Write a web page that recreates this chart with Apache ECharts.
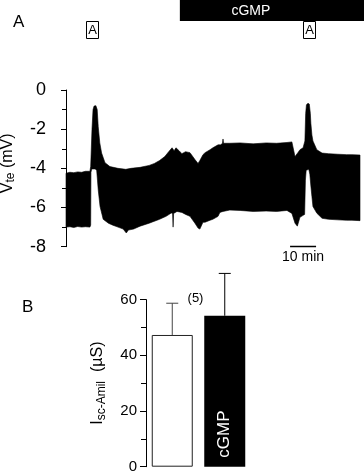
<!DOCTYPE html>
<html><head><meta charset="utf-8">
<script src="https://cdn.jsdelivr.net/npm/echarts@6/dist/echarts.min.js"></script>
<style>html,body{margin:0;padding:0;background:#fff}#c{width:364px;height:473px}</style>
</head><body><div id="c"></div>
<script>
const FONT = '"Liberation Sans", Arial, Helvetica, sans-serif';

// ---- Panel A: transepithelial voltage trace envelope [time (min), Vte (mV)]
const traceUpper = [[0,-4.25],[1.5,-4.2],[3,-4.22],[4.5,-4.18],[6,-4.2],[7.5,-4.15],[9.2,-4.15],[9.5,-3.9],[10.0,-2.0],[10.4,-1.0],[10.8,-0.82],[11.5,-0.8],[12.0,-1.0],[12.4,-1.87],[13.0,-2.7],[13.7,-3.22],[15,-3.71],[16.9,-3.91],[20,-4.0],[23,-4.05],[25,-4.0],[28.5,-3.95],[32,-3.85],[34,-3.75],[36,-3.6],[38,-3.4],[39.5,-3.15],[40.8,-2.95],[41.6,-3.1],[42.3,-2.95],[43.5,-3.1],[44.6,-3.25],[46,-3.15],[47.7,-3.2],[49.6,-3.55],[50.8,-3.75],[51.5,-3.6],[52.7,-3.3],[53.5,-3.2],[55.4,-3.05],[56.5,-2.95],[58.5,-2.8],[59.5,-2.8],[60.2,-2.72],[60.4,-2.5],[60.6,-2.72],[63,-2.72],[67,-2.7],[72,-2.75],[77,-2.7],[81,-2.72],[85,-2.68],[86.9,-2.65],[88.1,-3.4],[89.2,-3.2],[90,-3.05],[91.2,-2.95],[91.9,-2.6],[92.2,-1.2],[92.5,-0.75],[93.1,-0.68],[93.6,-0.72],[94.0,-1.2],[94.2,-1.7],[94.6,-2.3],[95,-2.6],[96.5,-3.05],[98.5,-3.22],[101,-3.25],[104.6,-3.28],[108,-3.3],[110,-3.3],[113.1,-3.32]];
const traceLower = [[0,-7.0],[1.5,-6.98],[3,-7.02],[4.5,-6.97],[6,-7.0],[7.5,-6.98],[9.2,-7.0],[9.5,-6.9],[9.6,-4.2],[9.9,-4.03],[11.2,-4.03],[11.8,-4.1],[12.1,-4.6],[12.4,-5.1],[13.1,-5.95],[14.3,-6.6],[16.3,-6.8],[18,-6.9],[20,-7.0],[22,-7.1],[23.2,-7.3],[24,-7.15],[26,-7.1],[28.5,-6.95],[32,-6.8],[36,-6.6],[38.5,-6.45],[40.5,-6.28],[41.0,-6.3],[41.2,-7.0],[41.4,-6.3],[42.7,-6.2],[44.6,-6.25],[46,-6.35],[47.7,-6.45],[49.6,-6.8],[50.8,-7.05],[51.5,-7.1],[52.7,-6.75],[53.5,-6.75],[55.4,-6.65],[56.5,-6.6],[58.5,-6.45],[59.2,-6.25],[60.4,-6.2],[63,-6.13],[67,-6.15],[72,-6.2],[77,-6.18],[81,-6.2],[85,-6.15],[86.9,-6.3],[88.1,-6.8],[89.0,-6.95],[90,-6.5],[91.2,-6.4],[91.8,-6.35],[92.1,-4.6],[92.4,-4.1],[93.4,-4.05],[93.8,-4.3],[94.2,-4.9],[94.6,-5.44],[95,-5.95],[96.5,-6.29],[98.5,-6.55],[101,-6.6],[104.6,-6.63],[108,-6.65],[110,-6.65],[113.1,-6.67]];
const amilorideTimes = [10.0, 93.3];   // boxed "A" markers
const amilorideLabel = 'A';
const cGMPStart = 43.8;                // min
const cGMPLabel = 'cGMP';
const scaleBarStart = 86.2, scaleBarLength = 10, scaleBarLabel = '10 min';
const vteMin = -8, vteMax = 0, vteInterval = 2;
const timeMax = 113.1;

// ---- Panel B: amiloride-sensitive current
const barCategories = ['Control', 'cGMP'];
const barMeans = [47.3, 54.2];
const barErrors = [11.4, 15.2];
const barNLabel = '(5)';
const isMin = 0, isMax = 60, isInterval = 20;

const chart = echarts.init(document.getElementById('c'), null, {renderer: 'canvas'});

const axisLineStyle = {color: '#000', width: 1};

chart.setOption({
  animation: false,
  backgroundColor: '#fff',
  textStyle: {fontFamily: FONT},
  grid: [
    {left: 66, top: 90, width: 294, height: 156.7, containLabel: false, outerBoundsMode: 'none'},
    {left: 146, top: 299.6, width: 105, height: 167.1, containLabel: false, outerBoundsMode: 'none'}
  ],
  xAxis: [
    {gridIndex: 0, type: 'value', min: 0, max: timeMax, show: false},
    {gridIndex: 1, type: 'category', data: barCategories, show: false}
  ],
  yAxis: [
    {gridIndex: 0, type: 'value', min: vteMin, max: vteMax, interval: vteInterval, offset: 13,
     axisLine: {show: true, lineStyle: axisLineStyle},
     axisTick: {show: true, length: 5, lineStyle: axisLineStyle},
     minorTick: {show: true, splitNumber: 2, length: 4, lineStyle: axisLineStyle},
     splitLine: {show: false},
     axisLabel: {color: '#000', fontSize: 18, margin: 7, fontFamily: FONT},
     name: '{a|V}{b|te}{a| (mV)}', nameLocation: 'middle', nameGap: 35, nameRotate: 90,
     nameTextStyle: {padding: [0, 0, 0, 10], rich: {
       a: {fontSize: 16, fontFamily: FONT, color: '#000', lineHeight: 16, padding: [0, 0, 4, 0]},
       b: {fontSize: 12, fontFamily: FONT, color: '#000', lineHeight: 12, verticalAlign: 'bottom'}
     }}
    },
    {gridIndex: 1, type: 'value', min: isMin, max: isMax, interval: isInterval,
     axisLine: {show: true, lineStyle: axisLineStyle},
     axisTick: {show: true, length: 6, lineStyle: axisLineStyle},
     minorTick: {show: true, splitNumber: 2, length: 5, lineStyle: axisLineStyle},
     splitLine: {show: false},
     axisLabel: {color: '#000', fontSize: 15, margin: 9, fontFamily: FONT},
     name: '{a|I}{b|sc-Amil}{a|  (µS)}', nameLocation: 'middle', nameGap: 38, nameRotate: 90,
     nameTextStyle: {rich: {
       a: {fontSize: 16, fontFamily: FONT, color: '#000', lineHeight: 16, padding: [0, 0, 4, 0]},
       b: {fontSize: 12, fontFamily: FONT, color: '#000', lineHeight: 12, verticalAlign: 'bottom'}
     }}
    }
  ],
  series: [
    {
      type: 'custom', xAxisIndex: 0, yAxisIndex: 0, silent: true, clip: false,
      data: [[0, 0]],
      renderItem: function (params, api) {
        const pts = traceUpper.map(p => api.coord(p))
          .concat(traceLower.slice().reverse().map(p => api.coord(p)));
        return {type: 'polygon', shape: {points: pts},
                style: {fill: '#000', stroke: '#000', lineWidth: 0.6}};
      }
    },
    {
      type: 'bar', xAxisIndex: 1, yAxisIndex: 1, barWidth: 41, silent: true,
      data: barMeans.map((v, i) => i === 0
        ? {value: v, itemStyle: {color: '#fff', borderColor: '#222', borderWidth: 1}}
        : {value: v, itemStyle: {color: '#000'},
           label: {show: true, position: 'insideBottom', rotate: 90, align: 'left',
                   verticalAlign: 'middle', distance: 12, offset: [-3, 0],
                   color: '#fff', fontSize: 17, fontFamily: FONT, formatter: barCategories[i]}})
    },
    {
      type: 'custom', xAxisIndex: 1, yAxisIndex: 1, clip: false, silent: true, z: 5,
      data: barMeans.map((m, i) => [i, m, m + barErrors[i]]),
      renderItem: function (params, api) {
        const i = api.value(0);
        const lo = api.coord([i, api.value(1)]);
        const hi = api.coord([i, api.value(2)]);
        const col = i === 0 ? '#444' : '#000';
        const cap = 6;
        return {type: 'group', children: [
          {type: 'line', shape: {x1: lo[0], y1: lo[1], x2: hi[0], y2: hi[1]}, style: {stroke: col, lineWidth: 1}},
          {type: 'line', shape: {x1: hi[0] - cap, y1: hi[1], x2: hi[0] + cap, y2: hi[1]}, style: {stroke: col, lineWidth: 1}}
        ]};
      }
    }
  ]
});

// annotations placed through the axis scale
const px = t => chart.convertToPixel({xAxisIndex: 0}, t);
const py = v => chart.convertToPixel({yAxisIndex: 0}, v);
const graphics = [
  {type: 'text', left: 13, top: 14, style: {text: 'A', fontSize: 17, fontFamily: FONT, fill: '#000'}},
  {type: 'text', left: 22, top: 299, style: {text: 'B', fontSize: 17, fontFamily: FONT, fill: '#000'}}
];
amilorideTimes.forEach(t => {
  const x = Math.round(px(t)) + 0.5;
  graphics.push({type: 'rect', shape: {x: x - 6, y: 21.5, width: 12, height: 17},
                 style: {fill: '#fff', stroke: '#000', lineWidth: 1}});
  graphics.push({type: 'text', x: x, y: 30.5, style: {text: amilorideLabel, fontSize: 13, fontFamily: FONT,
                 fill: '#000', align: 'center', verticalAlign: 'middle'}});
});
const cx = px(cGMPStart);
graphics.push({type: 'rect', shape: {x: cx, y: 0, width: 364 - cx, height: 21}, style: {fill: '#000'}});
graphics.push({type: 'text', x: cx + 71, y: 11, style: {text: cGMPLabel, fontSize: 14, fontFamily: FONT,
               fill: '#fff', align: 'center', verticalAlign: 'middle'}});
const sx1 = px(scaleBarStart), sx2 = px(scaleBarStart + scaleBarLength), sy = Math.round(py(-7.95)) + 0.5;
graphics.push({type: 'line', shape: {x1: sx1, y1: sy, x2: sx2, y2: sy}, style: {stroke: '#000', lineWidth: 1.5}});
graphics.push({type: 'text', x: (sx1 + sx2) / 2, y: sy + 4, style: {text: scaleBarLabel, fontSize: 14, fontFamily: FONT,
               fill: '#000', align: 'center', verticalAlign: 'top'}});
graphics.push({type: 'text', x: 195.5, y: 298, style: {text: barNLabel, fontSize: 13, fontFamily: FONT,
               fill: '#000', align: 'center', verticalAlign: 'middle'}});
chart.setOption({graphic: graphics});
</script></body></html>
